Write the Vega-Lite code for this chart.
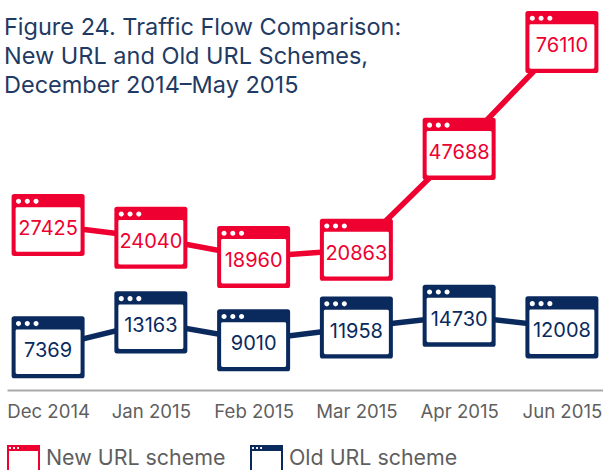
{
  "$schema": "https://vega.github.io/schema/vega-lite/v6.json",
  "width": 596, "height": 390,
  "autosize": {"type": "none"},
  "padding": {"left": 7, "top": 0, "right": 0, "bottom": 80},
  "background": "white",
  "title": {"text": ["Figure 24. Traffic Flow Comparison:", "New URL and Old URL Schemes,", "December 2014–May 2015"], "anchor": "start", "frame": "group", "orient": "top", "font": "Inter", "fontSize": 23.5, "fontWeight": 400, "color": "#1f3a63", "lineHeight": 29, "baseline": "top", "dx": -3, "dy": 97, "offset": 0},
  "config": {"view": {"stroke": null}},
  "data": {"values": [
    {"month": "Dec 2014", "series": "New URL scheme", "traffic": 27425},
    {"month": "Jan 2015", "series": "New URL scheme", "traffic": 24040},
    {"month": "Feb 2015", "series": "New URL scheme", "traffic": 18960},
    {"month": "Mar 2015", "series": "New URL scheme", "traffic": 20863},
    {"month": "Apr 2015", "series": "New URL scheme", "traffic": 47688},
    {"month": "Jun 2015", "series": "New URL scheme", "traffic": 76110},
    {"month": "Dec 2014", "series": "Old URL scheme", "traffic": 7369},
    {"month": "Jan 2015", "series": "Old URL scheme", "traffic": 13163},
    {"month": "Feb 2015", "series": "Old URL scheme", "traffic": 9010},
    {"month": "Mar 2015", "series": "Old URL scheme", "traffic": 11958},
    {"month": "Apr 2015", "series": "Old URL scheme", "traffic": 14730},
    {"month": "Jun 2015", "series": "Old URL scheme", "traffic": 12008}
  ]},
  "encoding": {
    "x": {"field": "month", "type": "ordinal", "sort": null,
      "scale": {"type": "point", "padding": 0.4},
      "axis": {"title": null, "labelAngle": 0, "ticks": false, "grid": false, "domainColor": "#a9a9a9", "domainWidth": 2, "labelFont": "Inter", "labelFontSize": 18.6, "labelColor": "#5f5f5f", "labelPadding": 12, "labelBaseline": "top"}}
  },
  "layer": [
    {
      "transform": [{"filter": "datum.series === 'New URL scheme'"}],
      "encoding": {"y": {"field": "traffic", "type": "quantitative", "axis": null, "scale": {"domain": [-16436, 87287], "nice": false, "zero": false}},
        "color": {"field": "series", "type": "nominal", "scale": {"domain": ["New URL scheme", "Old URL scheme"], "range": ["#ee0030", "#0a2a5e"]},
          "legend": {"title": null, "orient": "none", "legendX": 0, "legendY": 442.5, "direction": "horizontal", "padding": 0, "symbolType": "M-1,-0.85 H1 V1.1 H-1 Z M-1,-0.72 H-0.93 M-0.81,-0.72 H-0.67 M-0.55,-0.72 H-0.41 M-0.29,-0.72 H1 M-1,-0.59 H1", "symbolSize": 961, "symbolStrokeWidth": 2, "symbolFillColor": "transparent", "labelFont": "Inter", "labelFontSize": 21.4, "labelColor": "#5f5f5f", "labelOffset": 6, "columnPadding": 21, "labelLimit": 300}}},
      "layer": [
        {"mark": {"type": "line", "strokeWidth": 5.5}},
        {"mark": {"type": "point", "filled": true, "opacity": 1, "size": 5329, "shape": "M-0.93,-0.85 H0.93 Q1,-0.85 1,-0.78 V0.78 Q1,0.85 0.93,0.85 H-0.93 Q-1,0.85 -1,0.78 V-0.78 Q-1,-0.85 -0.93,-0.85 Z"}, "encoding": {"color": {"value": "#ee0030"}}},
        {"mark": {"type": "point", "filled": true, "opacity": 1, "size": 5329, "shape": "M-0.85,-0.49 H0.85 Q0.89,-0.49 0.89,-0.45 V0.69 Q0.89,0.73 0.85,0.73 H-0.85 Q-0.89,0.73 -0.89,0.69 V-0.45 Q-0.89,-0.49 -0.85,-0.49 Z M-0.88,-0.65 a0.07,0.07 0 1,0 0.14,0 a0.07,0.07 0 1,0 -0.14,0 Z M-0.64,-0.65 a0.07,0.07 0 1,0 0.14,0 a0.07,0.07 0 1,0 -0.14,0 Z M-0.40,-0.65 a0.07,0.07 0 1,0 0.14,0 a0.07,0.07 0 1,0 -0.14,0 Z"}, "encoding": {"color": {"value": "white"}}},
        {"mark": {"type": "text", "font": "Inter", "fontSize": 20, "dy": 4}, "encoding": {"text": {"field": "traffic", "type": "nominal"}, "color": {"value": "#ee0030"}}}
      ]
    },
    {
      "transform": [{"filter": "datum.series === 'Old URL scheme'"}],
      "encoding": {"y": {"field": "traffic", "type": "quantitative", "axis": null, "scale": {"domain": [-2558, 88140], "nice": false, "zero": false}},
        "color": {"field": "series", "type": "nominal", "legend": null}},
      "layer": [
        {"mark": {"type": "line", "strokeWidth": 5.5}},
        {"mark": {"type": "point", "filled": true, "opacity": 1, "size": 5329, "shape": "M-0.93,-0.85 H0.93 Q1,-0.85 1,-0.78 V0.78 Q1,0.85 0.93,0.85 H-0.93 Q-1,0.85 -1,0.78 V-0.78 Q-1,-0.85 -0.93,-0.85 Z"}, "encoding": {"color": {"value": "#0a2a5e"}}},
        {"mark": {"type": "point", "filled": true, "opacity": 1, "size": 5329, "shape": "M-0.85,-0.49 H0.85 Q0.89,-0.49 0.89,-0.45 V0.69 Q0.89,0.73 0.85,0.73 H-0.85 Q-0.89,0.73 -0.89,0.69 V-0.45 Q-0.89,-0.49 -0.85,-0.49 Z M-0.88,-0.65 a0.07,0.07 0 1,0 0.14,0 a0.07,0.07 0 1,0 -0.14,0 Z M-0.64,-0.65 a0.07,0.07 0 1,0 0.14,0 a0.07,0.07 0 1,0 -0.14,0 Z M-0.40,-0.65 a0.07,0.07 0 1,0 0.14,0 a0.07,0.07 0 1,0 -0.14,0 Z"}, "encoding": {"color": {"value": "white"}}},
        {"mark": {"type": "text", "font": "Inter", "fontSize": 20, "dy": 4}, "encoding": {"text": {"field": "traffic", "type": "nominal"}, "color": {"value": "#0a2a5e"}}}
      ]
    }
  ],
  "resolve": {"scale": {"y": "independent"}}
}
